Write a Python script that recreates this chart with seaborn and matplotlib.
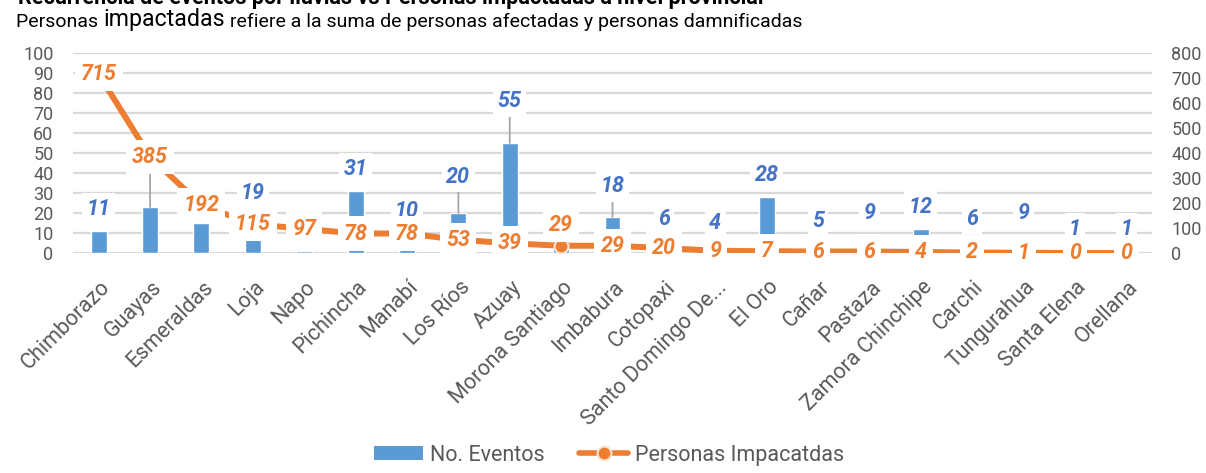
import numpy as np
import pandas as pd
import matplotlib
matplotlib.use("Agg")
import matplotlib.pyplot as plt
import matplotlib.transforms as mtransforms
from matplotlib.patches import Patch
from matplotlib.lines import Line2D
import seaborn as sns

# datos por provincia
provincias = ["Chimborazo", "Guayas", "Esmeraldas", "Loja", "Napo", "Pichincha",
              "Manabí", "Los Ríos", "Azuay", "Morona Santiago", "Imbabura",
              "Cotopaxi", "Santo Domingo De...", "El Oro", "Cañar", "Pastaza",
              "Zamora Chinchipe", "Carchi", "Tungurahua", "Santa Elena", "Orellana"]
eventos = [11, 23, 15, 19, 1, 31, 10, 20, 55, 6, 18, 6, 4, 28, 5, 9, 12, 6, 9, 1, 1]
personas = [715, 385, 192, 115, 97, 78, 78, 53, 39, 29, 29, 20, 9, 7, 6, 6, 4, 2, 1, 0, 0]

titulo = "Recurrencia de eventos por lluvias vs Personas impactadas a nivel provincial"

BAR = "#5B9BD5"
ORANGE = "#ED7D31"
BLUE_TXT = "#4472C4"
GRID = "#D9D9D9"
GREY = "#595959"

sns.set_theme(style="white")
plt.rcParams["font.family"] = ["Roboto", "DejaVu Sans"]

df = pd.DataFrame({"provincia": provincias, "eventos": eventos, "personas": personas})
df["pos"] = np.arange(len(df))

W, H = 1206, 473
fig = plt.figure(figsize=(W / 100, H / 100), dpi=100)
ax1 = fig.add_axes([73 / W, 1 - 253 / H, (1152 - 73) / W, 200 / H])
ax2 = ax1.twinx()

sns.barplot(data=df, x="provincia", y="eventos", ax=ax1, color=BAR,
            saturation=1, width=0.31, zorder=2)
sns.lineplot(data=df, x="pos", y="personas", ax=ax2, color=ORANGE, lw=4.3,
             marker="o", markersize=10, markeredgecolor="#FBE5D6",
             markeredgewidth=1.5, sort=False, zorder=2)

ax1.set_ylim(0, 100)
ax1.set_yticks(range(0, 101, 10))
ax2.set_ylim(0, 800)
ax2.set_yticks(range(0, 801, 100))
ax1.set_xlim(-0.5, len(df) - 0.5)
ax1.set_xlabel("")
ax1.set_ylabel("")
ax2.set_ylabel("")

ax1.yaxis.grid(True, color=GRID, lw=1.6)
ax1.set_axisbelow(True)
ax2.grid(False)
for a in (ax1, ax2):
    for s in a.spines.values():
        s.set_visible(False)
    a.tick_params(axis="y", length=0, pad=14, labelcolor=GREY, labelsize=13)

ax1.set_xticks(df["pos"])
ax1.set_xticklabels(provincias, rotation=45, ha="right", rotation_mode="anchor",
                    color=GREY, fontsize=15.5)
ax1.tick_params(axis="x", length=0, pad=17)
shift = mtransforms.ScaledTranslation(1 / 100, 0, fig.dpi_scale_trans)
for lab in ax1.get_xticklabels():
    lab.set_transform(lab.get_transform() + shift)

# etiquetas de eventos (algunas desplazadas con linea guia)
shift_azul = {"Guayas": 36, "Los Ríos": 26, "Azuay": 30, "Imbabura": 22}
for i, row in df.iterrows():
    off = shift_azul.get(row["provincia"], 16)
    kw = {}
    if row["provincia"] in shift_azul:
        kw["arrowprops"] = dict(arrowstyle="-", color="#A5A5A5", lw=1.3,
                                shrinkA=0, shrinkB=0)
    ax1.annotate(str(row["eventos"]), xy=(row["pos"], row["eventos"]),
                 xytext=(0, off), textcoords="offset points",
                 ha="center", va="center", color=BLUE_TXT, fontsize=15.5,
                 fontweight="bold", fontstyle="italic",
                 bbox=dict(boxstyle="square,pad=0.2", fc="white", ec="none"),
                 zorder=4, **kw)

# etiquetas de personas
shift_nar = {"Morona Santiago": 15}
for i, row in df.iterrows():
    off = shift_nar.get(row["provincia"], 0)
    ax2.annotate(str(row["personas"]), xy=(row["pos"], row["personas"]),
                 xytext=(0, off), textcoords="offset points",
                 ha="center", va="center", color=ORANGE, fontsize=15.5,
                 fontweight="bold", fontstyle="italic",
                 bbox=dict(boxstyle="square,pad=0.28", fc="white", ec="none"),
                 zorder=4)

# titulo (cortado arriba) y subtitulo
fig.text(18 / W, 1 - 4 / H, titulo, fontsize=15.5, fontweight="bold",
         color="black", va="baseline")
t1 = fig.text(16 / W, 1 - 31 / H, "Personas ", fontsize=14, color="black",
              va="bottom")
t2 = ax1.annotate("impactadas", xy=(1, 0), xycoords=t1, fontsize=16.7,
                  color="black", va="bottom", annotation_clip=False)
ax1.annotate(" refiere a la suma de personas afectadas y personas damnificadas",
             xy=(1, 0), xycoords=t2, fontsize=14, color="black", va="bottom",
             annotation_clip=False)

handles = [Patch(facecolor=BAR, edgecolor="none"),
           Line2D([0], [0], color=ORANGE, lw=4, marker="o", markersize=10,
                  markeredgecolor="#FBE5D6", markeredgewidth=1.5)]
fig.legend(handles, ["No. Eventos", "Personas Impacatdas"], loc="center",
           bbox_to_anchor=(609 / W, 1 - 455 / H), ncol=2, frameon=False,
           fontsize=15.5, labelcolor=GREY, handlelength=2.3, handleheight=0.6,
           handletextpad=0.3, columnspacing=1.6)

fig.savefig("out.png", dpi=100)
